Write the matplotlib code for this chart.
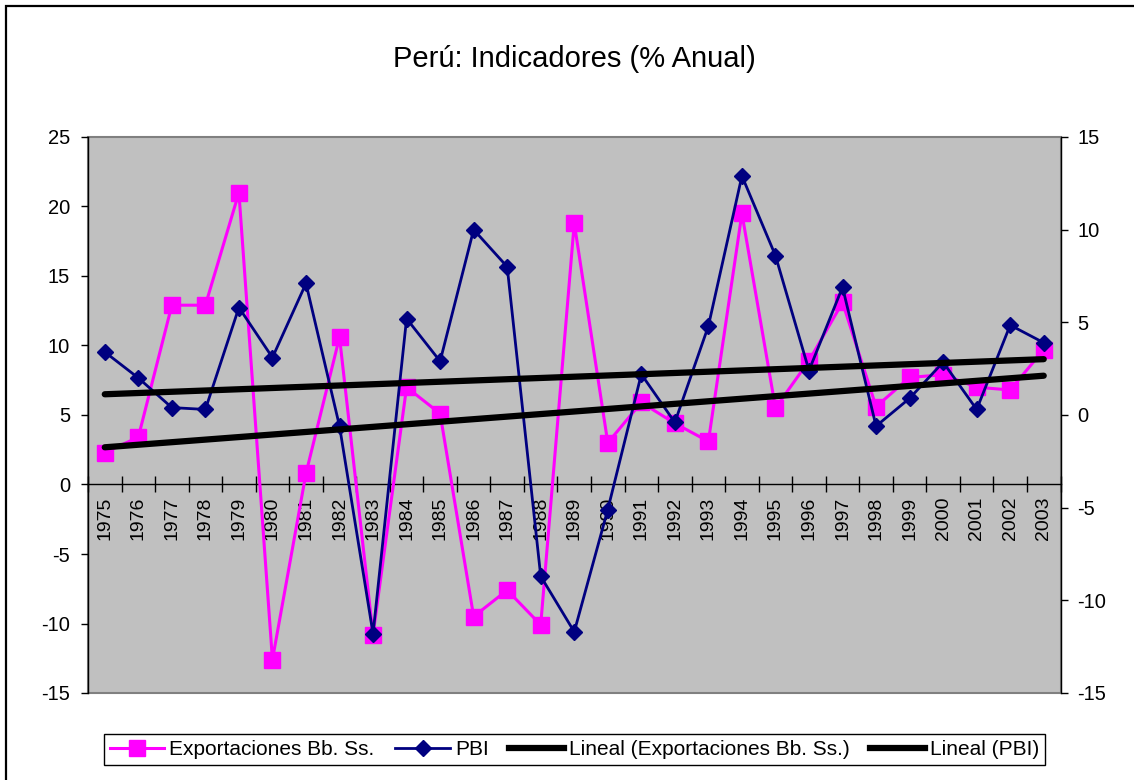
import numpy as np
import matplotlib
matplotlib.use('Agg')
import matplotlib.pyplot as plt
from matplotlib.patches import Rectangle
from matplotlib.lines import Line2D

plt.rcParams['font.family'] = ['Liberation Sans', 'DejaVu Sans']
plt.rcParams['axes.unicode_minus'] = False

years = [str(y) for y in range(1975, 2004)]
exportaciones = [2.3, 3.4, 12.9, 12.9, 21.0, -12.6, 0.8, 10.6, -10.8, 7.0,
                 5.1, -9.5, -7.6, -10.1, 18.8, 3.0, 5.9, 4.4, 3.1, 19.5,
                 5.5, 8.9, 13.1, 5.6, 7.7, 7.9, 7.0, 6.8, 9.7]
pbi = [3.4, 2.0, 0.4, 0.3, 5.8, 3.1, 7.1, -0.6, -11.8, 5.2,
       2.9, 10.0, 8.0, -8.7, -11.7, -5.1, 2.2, -0.4, 4.8, 12.9,
       8.6, 2.4, 6.9, -0.6, 0.9, 2.85, 0.3, 4.85, 3.9]
left_ticks = [-15, -10, -5, 0, 5, 10, 15, 20, 25]
right_ticks = [-15, -10, -5, 0, 5, 10, 15]

MAGENTA = '#FF00FF'
NAVY = '#000080'

x = np.arange(len(years))

fig = plt.figure(figsize=(11.34, 7.8), dpi=100)
ax1 = fig.add_axes([88/1134, 1-693/780, (1060.5-88)/1134, (693-137)/780])
ax2 = ax1.twinx()

ax1.set_facecolor('#C0C0C0')
ax1.set_xlim(-0.5, len(years) - 0.5)
ax1.set_ylim(-15, 25)
ax2.set_ylim(-15, 15)

# plot-area border
ax1.add_patch(Rectangle((0, 0), 1, 1, transform=ax1.transAxes, fill=False,
                        edgecolor='#808080', lw=1.5, zorder=0.5, clip_on=False))

# series
l1, = ax1.plot(x, exportaciones, color=MAGENTA, lw=2.2, marker='s', ms=11,
               mfc=MAGENTA, mec=MAGENTA, zorder=3)
l2, = ax2.plot(x, pbi, color=NAVY, lw=2.0, marker='D', ms=7.8,
               mfc=NAVY, mec=NAVY, zorder=3)

# linear trend lines (least squares on data)
c_exp = np.polyfit(x, exportaciones, 1)
c_pbi = np.polyfit(x, pbi, 1)
xt = np.array([x[0], x[-1]])
l3, = ax2.plot(xt, np.polyval(c_exp, xt), color='black', lw=4.5,
               transform=ax1.transData, zorder=4, solid_capstyle='round')
l4, = ax2.plot(xt, np.polyval(c_pbi, xt), color='black', lw=4.5, zorder=4,
               solid_capstyle='round')

# spines
for s in ['top', 'right']:
    ax1.spines[s].set_visible(False)
ax1.spines['bottom'].set_position(('data', 0))
ax1.spines['bottom'].set_color('black')
ax1.spines['bottom'].set_linewidth(1.0)
ax1.spines['left'].set_color('black')
ax1.spines['left'].set_linewidth(1.0)
for s in ['top', 'left', 'bottom']:
    ax2.spines[s].set_visible(False)
ax2.spines['right'].set_color('black')
ax2.spines['right'].set_linewidth(1.0)

# x ticks
ax1.set_xticks(x)
ax1.set_xticklabels(years, rotation=90)
ax1.set_xticks(np.arange(-0.5, len(years), 1), minor=True)
ax1.tick_params(axis='x', which='major', length=0, pad=9, labelsize=14)
ax1.tick_params(axis='x', which='minor', direction='inout', length=12, width=1)

# y ticks
ax1.set_yticks(left_ticks)
ax1.tick_params(axis='y', direction='out', length=5, width=1, pad=8, labelsize=14.5)
ax2.set_yticks(right_ticks)
ax2.tick_params(axis='y', direction='out', length=5, width=1, pad=7, labelsize=14.5)

# title
fig.text(574/1134, 1-67/780, 'Perú: Indicadores (% Anual)', ha='center',
         va='baseline', fontsize=21)

# legend
handles = [l1, l2, Line2D([], [], color='black', lw=4.5),
           Line2D([], [], color='black', lw=4.5)]
labels = ['Exportaciones Bb. Ss.', 'PBI', 'Lineal (Exportaciones Bb. Ss.)',
          'Lineal (PBI)']
leg = fig.legend(handles, labels, loc='center', bbox_to_anchor=(574.5/1134, 1-749.5/780),
                 ncol=4, frameon=True, fancybox=False, fontsize=15,
                 handlelength=2.6, handletextpad=0.25, columnspacing=1.0,
                 borderpad=0.3, borderaxespad=0, framealpha=1)
leg.get_frame().set_edgecolor('black')
leg.get_frame().set_linewidth(1.0)

# outer chart border (clipped at right/bottom)
fig.patches.append(Rectangle((6/1134, -0.1), 1.5, 1.1 - 6/780, transform=fig.transFigure,
                             fill=False, edgecolor='black', lw=1.6))

fig.savefig('out.png', dpi=100)
